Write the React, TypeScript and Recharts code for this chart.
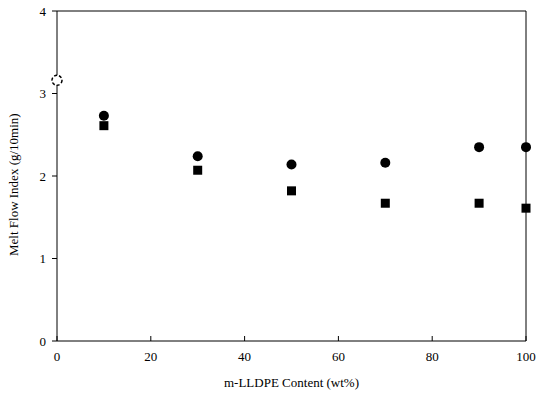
import React from "react";
import { ScatterChart, Scatter, XAxis, YAxis, ReferenceLine } from "recharts";

const contentX = [10, 30, 50, 70, 90, 100];
const circleSeries = [2.73, 2.24, 2.14, 2.16, 2.35, 2.35];
const squareSeries = [2.61, 2.07, 1.82, 1.67, 1.67, 1.61];
const openPoint = [{ x: 0, y: 3.16 }];
const xTicks = [0, 20, 40, 60, 80, 100];
const yTicks = [0, 1, 2, 3, 4];

const circleData = contentX.map((x, i) => ({ x, y: circleSeries[i] }));
const squareData = contentX.map((x, i) => ({ x, y: squareSeries[i] }));

const FONT = "'Liberation Serif', 'DejaVu Serif', serif";

const CircleShape = (p: any) => <circle cx={p.cx} cy={p.cy} r={5} fill="#000" />;
const SquareShape = (p: any) => (
  <rect x={p.cx - 4.5} y={p.cy - 4.5} width={9} height={9} fill="#000" />
);
const OpenShape = (p: any) => (
  <circle cx={p.cx} cy={p.cy} r={5} fill="#fff" stroke="#000" strokeWidth={1.5} strokeDasharray="3 2" />
);

const XTick = (p: any) => (
  <g>
    <line x1={p.x} x2={p.x} y1={p.y} y2={p.y - 5} stroke="#000" />
    <text x={p.x} y={p.y + 20} textAnchor="middle" fontFamily={FONT} fontSize={13} fill="#000">
      {p.payload.value}
    </text>
  </g>
);

export default function App() {
  return (
    <div style={{ position: "absolute", left: 0, top: 0, background: "#fff" }}>
      <ScatterChart width={543} height={398} margin={{ top: 11, right: 17, bottom: 27, left: 27 }}>
        <XAxis
          type="number"
          dataKey="x"
          domain={[0, 100]}
          ticks={xTicks}
          tickLine={false}
          tickSize={0}
          tickMargin={0}
          tick={<XTick />}
          height={30}
          axisLine={{ stroke: "#000" }}
          label={{ value: "m-LLDPE Content (wt%)", position: "insideBottom", offset: -16, fontFamily: FONT, fontSize: 13, fill: "#000" }}
        />
        <YAxis
          type="number"
          dataKey="y"
          domain={[0, 4]}
          ticks={yTicks}
          width={30}
          tickSize={5}
          tickMargin={6}
          axisLine={{ stroke: "#000" }}
          tickLine={{ stroke: "#000" }}
          tick={{ fontFamily: FONT, fontSize: 13, fill: "#000" }}
          label={{ value: "Melt Flow Index (g/10min)", angle: -90, position: "insideLeft", offset: -14, dy: 80, fontFamily: FONT, fontSize: 13, fill: "#000" }}
        />
        <ReferenceLine y={4} stroke="#000" />
        <ReferenceLine x={100} stroke="#000" />
        <Scatter data={circleData} shape={<CircleShape />} isAnimationActive={false} />
        <Scatter data={squareData} shape={<SquareShape />} isAnimationActive={false} />
        <Scatter data={openPoint} shape={<OpenShape />} isAnimationActive={false} />
      </ScatterChart>
    </div>
  );
}
